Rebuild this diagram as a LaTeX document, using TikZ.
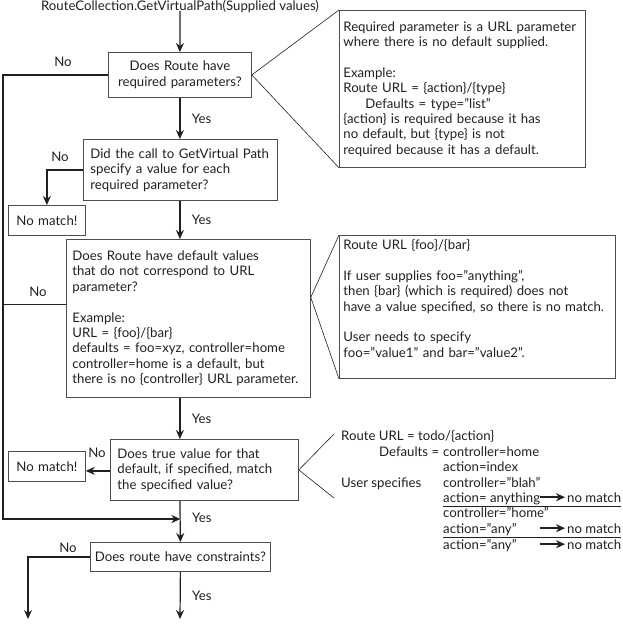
\documentclass[tikz,border=0pt]{standalone}
\usepackage{fontspec}
\setmainfont{Lato}
\usepackage{tikz}
\usetikzlibrary{positioning, arrows.meta}
\definecolor{ink}{HTML}{231F20}
\definecolor{boxline}{HTML}{4D4D4D}

\begin{document}
\begin{tikzpicture}[
  x=1pt, y=-1pt,
  every node/.style={font=\fontsize{13.2}{15.4}\selectfont, text=ink},
  question/.style={
    draw=boxline,
    line width=0.8pt,
    anchor=north west,
    inner xsep=7pt,
    inner ysep=3pt,
    align=left,
  },
  nomatch/.style={
    question,
    align=center,
    inner xsep=4pt,
    text width=69pt,
    minimum height=30pt,
  },
  callout/.style={
    draw=boxline,
    line width=0.8pt,
    anchor=north west,
    inner xsep=4pt,
    inner ysep=4pt,
    align=left,
  },
  pointer/.style={draw=ink, line width=0.6pt},
  flow/.style={
    -{Stealth[length=9pt, width=8pt]},
    line width=1.2pt,
    draw=ink,
  },
  plain/.style={line width=1.2pt, draw=ink},
  yes/.style={right, xshift=8pt},
  lbl/.style={inner sep=0pt},
  row/.style={anchor=base west, inner sep=0pt},
  result/.style={
    -{Stealth[length=9pt, width=8pt]},
    line width=1.7pt,
    draw=ink,
  },
  rule/.style={line width=0.8pt, draw=ink},
]
  \useasboundingbox (0,0) rectangle (622,626);

  % main column
  \node (title) at (180,7) {RouteCollection.GetVirtualPath(Supplied values)};
  \node[question, align=center, text width=129pt, minimum height=45pt] (q1) at (108,52)
    {Does Route have\\required parameters?};
  \node[question, text width=180pt, minimum height=61pt] (q2) at (83,139)
    {Did the call to GetVirtual Path\\specify a value for each\\required parameter?};
  \node[question, inner xsep=6pt, text width=232pt, minimum height=158pt] (q3) at (66,239)
    {Does Route have default values\\that do not correspond to URL\\parameter?\\[15.4pt]
     Example:\\URL = \{foo\}/\{bar\}\\defaults = foo=xyz, controller=home\\
     controller=home is a default, but\\there is no \{controller\} URL parameter.};
  \node[question, text width=174pt, minimum height=61pt] (q4) at (110,439)
    {Does true value for that\\default, if specified, match\\the specified value?};
  \node[question, align=center, inner xsep=3pt, text width=174pt, minimum height=29pt] (q5) at (90,542)
    {Does route have constraints?};

  \node[nomatch] (m1) at (8,205) {No match!};
  \node[nomatch] (m2) at (8,451) {No match!};

  \coordinate (rail) at (3,519);
  \coordinate (yesend) at (180,619);
  \coordinate (noend) at (28,619);

  % yes path
  \draw[flow] (title.south) ++(0,-6) -- (q1.north);
  \draw[flow] (q1.south) -- node[yes]{Yes} (q1.south |- q2.north);
  \draw[flow] (q1.south |- q2.south) -- node[yes]{Yes} (q1.south |- q3.north);
  \draw[flow] (q1.south |- q3.south) -- node[yes]{Yes} (q1.south |- q4.north);
  \draw[flow] (q1.south |- q4.south) -- node[yes, pos=0.42]{Yes} (q5.north);
  \draw[flow] (q5.south) -- node[yes]{Yes} (yesend);

  % no path
  \draw[flow] (q1.west) -| (rail) -- (rail -| q5.north);
  \draw[plain] ([yshift=14pt]q3.west) -- ([yshift=14pt]q3.west -| rail);
  \draw[flow] (q2.west) -| (m1.north);
  \draw[flow] ([yshift=-1pt]q4.west) -- ([yshift=-1pt]q4.west -| m2.east);
  \draw[flow] (q5.west) -| (noend);

  \node[lbl] (no1) at (63,62) {No};
  \node[lbl] (no2) at (60,157) {No};
  \node[lbl] (no3) at (38,292) {No};
  \node[lbl] (no4) at (97,453) {No};
  \node[lbl] (no5) at (68,548) {No};

  % notes on the right
  \node[callout, text width=238pt, minimum height=157pt] (c1) at (339,10)
    {Required parameter is a URL parameter\\where there is no default supplied.\\[15.4pt]
     Example:\\Route URL = \{action\}/\{type\}\\
     \hspace*{22pt}Defaults = type="list"\\
     \{action\} is required because it has\\no default, but \{type\} is not\\
     required because it has a default.};
  \draw[pointer] (c1.north west) -- (q1.east) -- (c1.south west);

  \node[callout, text width=268pt, text depth=125pt] (c2) at (339,235)
    {Route URL \{foo\}/\{bar\}\\[15.4pt]
     If user supplies foo="anything",\\then \{bar\} (which is required) does not\\
     have a value specified, so there is no match.\\[15.4pt]
     User needs to specify\\foo="value1" and bar="value2".};
  \coordinate (tip2) at ([yshift=21pt]q3.east);
  \draw[pointer] (c2.north west) -- (tip2) -- (c2.south west);

  \coordinate (c3top) at (334,434);
  \coordinate (c3bot) at (334,498);
  \draw[pointer] (c3top) -- (q4.east) -- (c3bot);

  \node[row] (r1) at (341,440) {Route URL = todo/\{action\}};
  \node[row] (r2) at (379,456) {Defaults =};
  \node[row] (v1) at (443,456) {controller=home};
  \node[row] (v2) at (443,471) {action=index};
  \node[row] (r3) at (341,487) {User specifies};
  \node[row] (v3) at (443,487) {controller="blah"};
  \node[row] (v4) at (443,502) {action= anything};
  \node[row] (v5) at (443,517) {controller="home"};
  \node[row] (v6) at (443,533) {action="any"};
  \node[row] (v7) at (443,549) {action="any"};
  \node[row] (n1) at (567,502) {no match};
  \node[row] (n2) at (567,533) {no match};
  \node[row] (n3) at (567,549) {no match};

  \draw[result] ([xshift=-27pt]n1.west) -- ([xshift=-2pt]n1.west);
  \draw[result] ([xshift=-27pt]n2.west) -- ([xshift=-2pt]n2.west);
  \draw[result] ([xshift=-27pt]n3.west) -- ([xshift=-2pt]n3.west);
  \draw[rule] ([yshift=-4pt]v4.base west) -- ([yshift=-4pt]v4.base west -| n1.east);
  \draw[rule] ([yshift=-4pt]v6.base west) -- ([yshift=-4pt]v6.base west -| n2.east);
\end{tikzpicture}
\end{document}
